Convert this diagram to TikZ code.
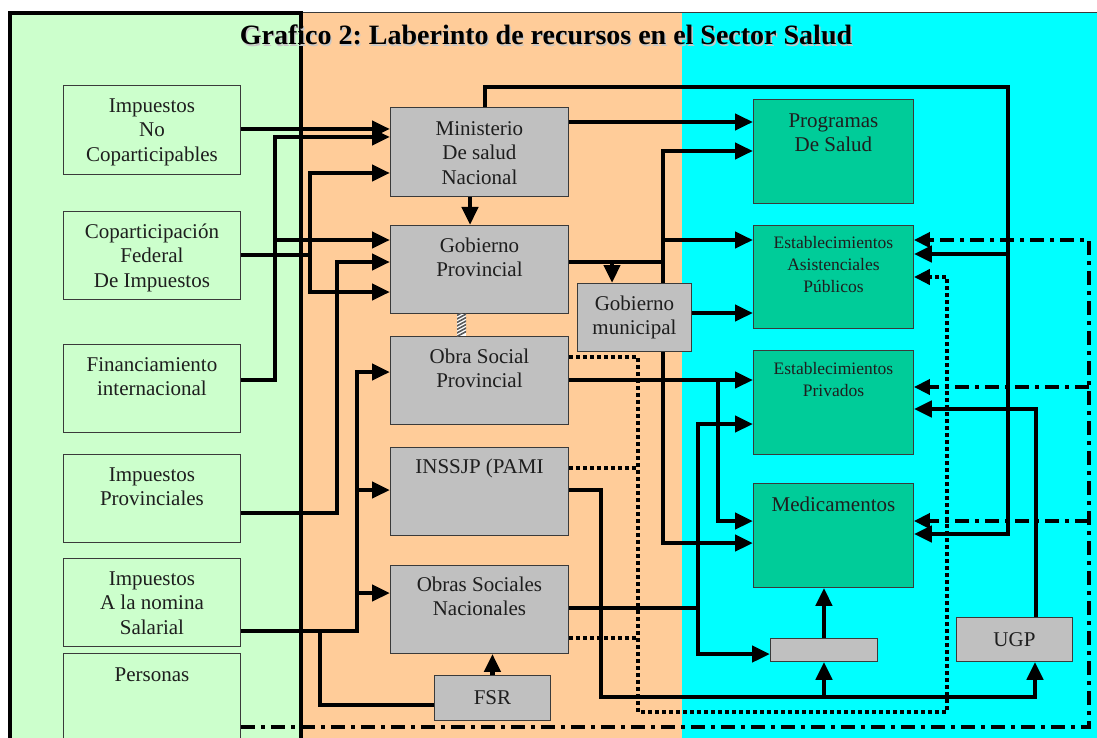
\documentclass[tikz,border=0pt]{standalone}
\usepackage{fontspec}
\setmainfont{Liberation Serif}
\usetikzlibrary{arrows.meta}
\frenchspacing

\definecolor{leftbg}{HTML}{CCFFCC}
\definecolor{midbg}{HTML}{FFCC99}
\definecolor{rightbg}{HTML}{00FFFF}
\definecolor{boxgray}{HTML}{C0C0C0}
\definecolor{boxgreen}{HTML}{00CC99}
\definecolor{edge}{HTML}{3A3A3A}
\definecolor{ink}{HTML}{1E1E1E}

\pgfdeclarelayer{panels}
\pgfdeclarelayer{under}
\pgfsetlayers{panels,under,main}

% box text: width, height, first-baseline depth, lines
\newcommand{\toptext}[4]{\vbox to #2{\hsize=#1\relax\parindent=0pt\centering
  \leavevmode\rule{0pt}{#3}#4\par\vfil}}

\tikzset{
  boxbase/.style={draw=edge, line width=0.9pt, inner sep=0pt, anchor=north west,
    text=ink, font=\fontsize{21}{24.5}\selectfont},
  src/.style={boxbase, fill=leftbg},
  org/.style={boxbase, fill=boxgray},
  dst/.style={boxbase, fill=boxgreen},
  small/.style={font=\fontsize{17.5}{22}\selectfont},
  link/.style={line width=4.6pt},
  flow/.style={link, -{Triangle[length=18pt,width=16pt]}},
  dotline/.style={line width=4.5pt, dash pattern=on 4pt off 3pt},
  dotflow/.style={dotline, -{Triangle[length=16pt,width=15pt]}},
  dashflow/.style={line width=3.8pt, dash pattern=on 14pt off 6pt on 4pt off 6pt,
    -{Triangle[length=16pt,width=15pt]}},
  titlefont/.style={font=\fontsize{28}{32}\selectfont\bfseries, anchor=base},
}

\begin{document}
\begin{tikzpicture}[x=1pt,y=-1pt]
\useasboundingbox (0,0) rectangle (1097,738);
\clip (0,0) rectangle (1097,738);

% three sector panels
\begin{pgfonlayer}{panels}
  \fill[white] (0,0) rectangle (1097,738);
  \fill[leftbg] (10,13) rectangle (302,760);
  \fill[midbg] (302,12) rectangle (682,760);
  \fill[rightbg] (682,12) rectangle (1100,760);
  \draw[edge, line width=0.8pt] (302,12) -- (1100,12);
  \draw[line width=4pt] (10,760) -- (10,13) -- (301,13) -- (301,760);
\end{pgfonlayer}

% title with its soft shadow
\node[titlefont, text=black!22] at (547.3,46.3) {Grafico 2: Laberinto de recursos en el Sector Salud};
\node[titlefont, text=black] (title) at (546,45) {Grafico 2: Laberinto de recursos en el Sector Salud};

% sources of funds
\node[src] (inc) at (63,85)  {\toptext{177pt}{89pt}{27pt}{Impuestos\\No\\Coparticipables}};
\node[src] (cop) at (63,211) {\toptext{177pt}{88pt}{27pt}{Coparticipación\\Federal\\De Impuestos}};
\node[src] (fin) at (63,344) {\toptext{177pt}{88pt}{27pt}{Financiamiento\\internacional}};
\node[src] (ipr) at (63,454) {\toptext{177pt}{88pt}{27pt}{Impuestos\\Provinciales}};
\node[src] (ins) at (63,558) {\toptext{177pt}{88pt}{27pt}{Impuestos\\A la nomina\\Salarial}};
\node[src] (per) at (63,653) {\toptext{177pt}{100pt}{28pt}{Personas}};

% financing agencies
\node[org] (min)  at (390,107) {\toptext{178pt}{89pt}{28pt}{Ministerio\\De salud\\Nacional}};
\node[org] (gpr)  at (390,225) {\toptext{178pt}{88pt}{27pt}{Gobierno\\Provincial}};
\node[org] (osp)  at (390,336) {\toptext{178pt}{88pt}{27pt}{Obra Social\\Provincial}};
\node[org] (pami) at (390,447) {\toptext{178pt}{88pt}{26pt}{INSSJP (PAMI}};
\node[org] (osn)  at (390,565) {\toptext{178pt}{88pt}{26pt}{Obras Sociales\\Nacionales}};
\node[org, minimum width=116pt, minimum height=45pt] (fsr) at (434,675) {FSR};
\node[org, minimum width=114pt, minimum height=68pt, align=center] (gmu) at (577,283) {Gobierno\\municipal};

% providers
\node[dst] (prog) at (753,99)  {\toptext{160pt}{104pt}{28pt}{Programas\\De Salud}};
\node[dst, small] (eap) at (753,225) {\toptext{160pt}{103pt}{23pt}{Establecimientos\\Asistenciales\\Públicos}};
\node[dst, small] (epr) at (753,350) {\toptext{160pt}{104pt}{24pt}{Establecimientos\\Privados}};
\node[dst] (med) at (753,483) {\toptext{160pt}{104pt}{28pt}{Medicamentos}};
\node[org, minimum width=107pt, minimum height=23pt] (bar) at (770,638) {};
\node[org, minimum width=116pt, minimum height=44pt] (ugp) at (956,617) {UGP};

% striped link between provincial government and its social insurance
\begin{scope}
  \clip (gpr.south -| 457,0) rectangle (osp.north -| 466,0);
  \fill[white] (gpr.south -| 457,0) rectangle (osp.north -| 466,0);
  \foreach \k in {0,...,7}
    \draw[black!65, line width=1.6pt] (455,313+3.5*\k) -- (468,306+3.5*\k);
\end{scope}

% taxes and credits into the public agencies
\draw[flow] (inc.east |- 0,129) -- (min.west |- 0,129);
\draw[flow] (fin.east |- 0,380) -| (275,137) -- (min.west |- 0,137);
\draw[flow] (275,240) -- (gpr.west |- 0,240);
\draw[flow] (cop.east |- 0,255) -| (310,173) -- (min.west |- 0,173);
\draw[flow] (310,255) |- (gpr.west |- 0,292);
\draw[flow] (ipr.east |- 0,513) -| (337,262) -- (gpr.west |- 0,262);
\draw[flow] (ins.east |- 0,631) -| (357,372) -- (osp.west |- 0,372);
\draw[flow] (357,490) -- (pami.west |- 0,490);
\draw[flow] (357,593) -- (osn.west |- 0,593);
\draw[link] (320,631) |- (fsr.west |- 0,705);
\draw[flow] (fsr.north) -- (osn.south -| fsr.north);

% Ministerio
\draw[flow] (min.south -| 470,0) -- (gpr.north -| 470,0);
\draw[flow] (min.east |- 0,122) -- (prog.west |- 0,122);
\draw[flow] (min.north -| 485,0) |- (1008,87) -- (1008,534) -- (med.east |- 0,534);
\draw[flow] (1008,254) -- (eap.east |- 0,254);

% Gobierno Provincial (the trunk runs behind Gobierno municipal)
\begin{pgfonlayer}{under}
  \draw[link] (gpr.east |- 0,262) -- (663,262);
  \draw[flow] (663,262) |- (prog.west |- 0,151);
  \draw[flow] (663,262) |- (med.west |- 0,543);
\end{pgfonlayer}
\draw[flow] (663,240) -- (eap.west |- 0,240);
\draw[flow] (612,262) -- (gmu.north -| 612,0);
\draw[flow] (gmu.east |- 0,313) -- (eap.west |- 0,313);

% Obra Social Provincial
\draw[flow] (osp.east |- 0,380) -- (epr.west |- 0,380);
\draw[flow] (718,380) |- (med.west |- 0,521);

% transfers shown dotted
\draw[dotflow] (osp.east |- 0,357) -| (638,712) -| (947,277) -- (eap.east |- 0,277);
\draw[dotline] (pami.east |- 0,468) -- (638,468);
\draw[dotline] (osn.east |- 0,638) -- (638,638);

% INSSJP
\draw[flow] (pami.east |- 0,490) -| (601,697) -| (ugp.south -| 1035,0);
\draw[flow] (824,697) -- (bar.south -| 824,0);

% Obras Sociales Nacionales
\draw[link] (osn.east |- 0,608) -- (698,608);
\draw[flow] (698,608) |- (epr.west |- 0,424);
\draw[flow] (698,608) |- (bar.west |- 0,654);

\draw[flow] (bar.north) -- (med.south -| bar.north);
\draw[flow] (ugp.north -| 1036,0) |- (epr.east |- 0,409);

% out-of-pocket spending
\draw[dashflow] (per.east |- 0,727) -| (1089,240) -- (eap.east |- 0,240);
\draw[dashflow] (1089,387) -- (epr.east |- 0,387);
\draw[dashflow] (1089,521) -- (med.east |- 0,521);
\end{tikzpicture}
\end{document}
